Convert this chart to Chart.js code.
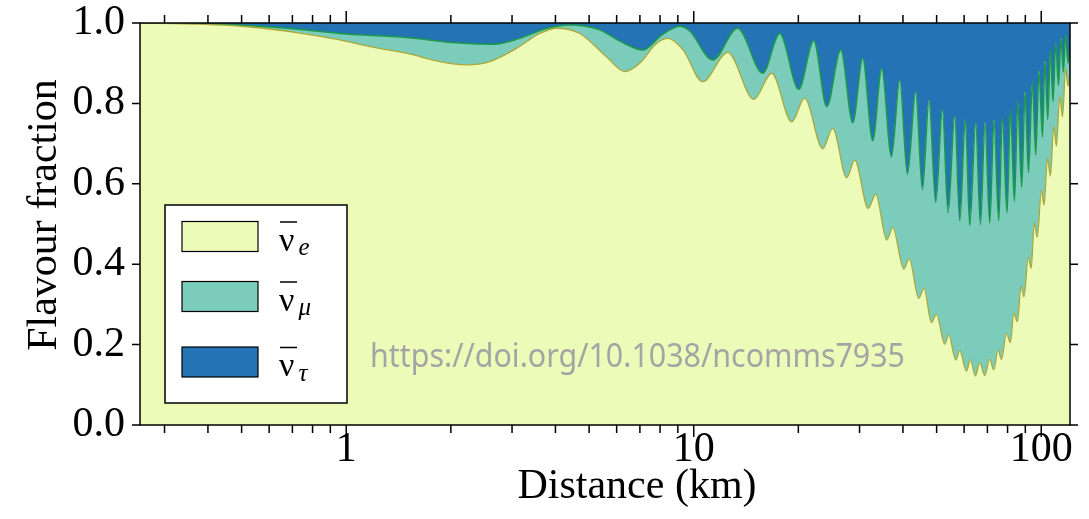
<!DOCTYPE html>
<html>
<head>
<meta charset="utf-8">
<script src="https://cdn.jsdelivr.net/npm/chart.js@4"></script>
<style>
  html, body { margin: 0; background: #fff; }
  #wrap { width: 1089px; height: 519px; }
</style>
</head>
<body>
<div id="wrap"><canvas id="flavourChart" width="1089" height="519"></canvas></div>
<script>
// values: distance (km) and the cumulative flavour fraction
// top of the nu_e band (= P_ee)
const distE = [0.255, 0.379, 0.528, 0.735, 0.958, 1.192, 1.49, 1.858, 2.218, 2.588, 3.089, 3.605, 4.026, 4.697, 5.609, 6.331, 6.993, 7.809, 8.433, 9.316,
  10.61, 12.53, 14.89, 16.77, 19.14, 20.86, 23.51, 25.12, 27.56, 29.06, 31.78, 33.40, 35.93, 37.39, 40.22, 41.70, 44.42, 45.99, 48.31, 49.94,
  52.77, 54.18, 56.75, 58.27, 60.91, 62.54, 64.65, 66.53, 68.77, 71.09, 73.00, 75.11, 76.81, 79.40, 81.53, 83.35, 85.41, 87.48, 89.23, 91.75,
  93.58, 95.47, 97.39, 100.1, 101.9, 104.2, 106.3, 108.6, 110.6, 113.0, 115.1, 117.6, 119.4, 121];
const fracE = [1.0, 0.997, 0.99, 0.975, 0.958, 0.94, 0.925, 0.904, 0.896, 0.904, 0.937, 0.974, 0.987, 0.974, 0.916, 0.879, 0.900, 0.949, 0.962, 0.933,
  0.854, 0.927, 0.810, 0.875, 0.754, 0.813, 0.687, 0.738, 0.615, 0.659, 0.539, 0.574, 0.460, 0.491, 0.388, 0.413, 0.315, 0.340, 0.255, 0.276,
  0.201, 0.224, 0.162, 0.185, 0.134, 0.162, 0.122, 0.155, 0.123, 0.163, 0.137, 0.187, 0.163, 0.228, 0.205, 0.279, 0.257, 0.346, 0.319, 0.417,
  0.390, 0.502, 0.467, 0.583, 0.547, 0.663, 0.619, 0.744, 0.694, 0.818, 0.767, 0.887, 0.843, 0.87];

// top of the nu_mu band (= P_ee + P_emu)
const distEMu = [0.255, 0.379, 0.528, 0.735, 0.958, 1.49, 2.121, 2.640, 3.158, 3.726, 4.397, 5.364, 6.125, 7.147, 8.088, 9.115, 9.739,
  11.34, 13.38, 15.80, 17.68, 20.05, 22.15, 24.14, 26.49, 28.69, 30.64, 32.74, 34.75, 37.07, 39.16, 41.21, 43.53, 45.51, 47.54, 49.70,
  51.97, 53.94, 56.38, 58.27, 60.51, 62.26, 64.79, 66.83, 68.92, 71.09, 73.14, 75.44, 77.31, 79.73, 81.55, 83.73, 85.58, 87.88, 89.82,
  91.87, 94.34, 96.43, 98.55, 100.8, 102.5, 104.4, 106.3, 108.1, 110.1, 112.1, 114.0, 115.8, 117.6, 119.4, 121];
const fracEMu = [1.0, 0.998, 0.993, 0.984, 0.974, 0.964, 0.950, 0.947, 0.962, 0.985, 0.995, 0.983, 0.955, 0.933, 0.970, 0.992, 0.980,
  0.908, 0.987, 0.875, 0.974, 0.835, 0.956, 0.792, 0.933, 0.752, 0.912, 0.707, 0.887, 0.667, 0.858, 0.624, 0.829, 0.585, 0.808, 0.554,
  0.785, 0.528, 0.769, 0.508, 0.760, 0.496, 0.752, 0.498, 0.752, 0.502, 0.759, 0.508, 0.765, 0.527, 0.784, 0.556, 0.804, 0.591, 0.829,
  0.628, 0.854, 0.672, 0.881, 0.716, 0.906, 0.760, 0.933, 0.804, 0.950, 0.845, 0.962, 0.878, 0.972, 0.900, 0.935];

// nu_tau fills the rest up to 1
const distAll = [0.255, 121];
const fracAll = [1.0, 1.0];

const xMajorTicks = [1, 10, 100];
const xMinorTicks = [0.3, 0.4, 0.5, 0.6, 0.7, 0.8, 0.9, 2, 3, 4, 5, 6, 7, 8, 9, 20, 30, 40, 50, 60, 70, 80, 90];
const yTicks = [0, 0.2, 0.4, 0.6, 0.8, 1.0];
const flavourSubs = ['e', 'μ', 'τ'];
const xTitle = 'Distance (km)';
const yTitle = 'Flavour fraction';
const watermark = 'https://doi.org/10.1038/ncomms7935';

const fillColors = ['#edfbb9', '#7bccbb', '#2474b5'];
const edgeColors = ['#aaa83a', '#1b9a4c'];

const serif = '"Liberation Serif", "Times New Roman", serif';

const toPoints = (xs, ys) => xs.map((d, i) => ({ x: d, y: ys[i] }));

// legend, frame, outward ticks, axis titles and the doi stamp
const overlay = {
  id: 'overlay',
  afterDraw(chart) {
    const { ctx, chartArea: a, scales: { x, y } } = chart;
    ctx.save();

    ctx.font = '33px "Noto Sans"';
    ctx.fillStyle = '#a4a4a4';
    ctx.textBaseline = 'alphabetic';
    ctx.textAlign = 'left';
    ctx.fillText(watermark, 370, 367, 535);

    // axis titles sit off-centre in the figure
    ctx.font = '42px ' + serif;
    ctx.fillStyle = '#000';
    ctx.textAlign = 'center';
    ctx.textBaseline = 'middle';
    ctx.fillText(xTitle, 637, 487);
    ctx.save();
    ctx.translate(45, 215);
    ctx.rotate(-Math.PI / 2);
    ctx.fillText(yTitle, 0, 0);
    ctx.restore();
    ctx.textAlign = 'left';
    ctx.textBaseline = 'alphabetic';

    ctx.strokeStyle = '#000';
    ctx.lineWidth = 1.5;
    ctx.strokeRect(a.left, a.top, a.right - a.left, a.bottom - a.top);
    ctx.beginPath();
    xMinorTicks.concat(xMajorTicks).forEach(v => {
      const px = x.getPixelForValue(v);
      const len = xMajorTicks.includes(v) ? 12 : 8;
      ctx.moveTo(px, a.bottom); ctx.lineTo(px, a.bottom + len);
      ctx.moveTo(px, a.top); ctx.lineTo(px, a.top - len);
    });
    yTicks.forEach(v => {
      const py = y.getPixelForValue(v);
      ctx.moveTo(a.left, py); ctx.lineTo(a.left - 8, py);
      ctx.moveTo(a.right, py); ctx.lineTo(a.right + 8, py);
    });
    ctx.stroke();

    // legend box
    ctx.fillStyle = '#fff';
    ctx.fillRect(165, 205, 182, 198);
    ctx.strokeRect(165, 205, 182, 198);
    const rowTops = [221.5, 281.5, 347];
    flavourSubs.forEach((sub, i) => {
      const top = rowTops[i];
      ctx.fillStyle = fillColors[i];
      ctx.fillRect(182, top, 76, 30);
      ctx.lineWidth = 1.2;
      ctx.strokeRect(182, top, 76, 30);
      const base = top + 29;
      ctx.fillStyle = '#000';
      ctx.font = '34px ' + serif;
      ctx.fillText('ν', 279, base);
      ctx.beginPath();
      ctx.lineWidth = 1.5;
      ctx.moveTo(280, base - 28.5); ctx.lineTo(297, base - 28.5);
      ctx.stroke();
      ctx.font = 'italic 25px ' + serif;
      ctx.fillText(sub, 298.5, base + 4.5);
    });
    ctx.restore();
  }
};

new Chart(document.getElementById('flavourChart'), {
  type: 'line',
  data: {
    datasets: [
      {
        label: 'nu_e',
        data: toPoints(distE, fracE),
        fill: 'origin',
        backgroundColor: fillColors[0],
        borderColor: edgeColors[0],
        borderWidth: 1.3,
        pointRadius: 0,
        cubicInterpolationMode: 'monotone'
      },
      {
        label: 'nu_mu',
        data: toPoints(distEMu, fracEMu),
        fill: '-1',
        backgroundColor: fillColors[1],
        borderColor: edgeColors[1],
        borderWidth: 1.5,
        pointRadius: 0,
        cubicInterpolationMode: 'monotone'
      },
      {
        label: 'nu_tau',
        data: toPoints(distAll, fracAll),
        fill: '-1',
        backgroundColor: fillColors[2],
        borderWidth: 0,
        pointRadius: 0
      }
    ]
  },
  options: {
    responsive: false,
    animation: false,
    devicePixelRatio: 1,
    layout: { padding: { top: 23, right: 19, left: 0, bottom: 0 } },
    plugins: { legend: { display: false }, tooltip: { enabled: false } },
    scales: {
      x: {
        type: 'logarithmic',
        min: distAll[0],
        max: distAll[1],
        grid: { display: false, drawTicks: false },
        border: { display: false },
        afterBuildTicks: s => {
          s.ticks = xMinorTicks.concat(xMajorTicks).sort((p, q) => p - q).map(v => ({ value: v }));
        },
        afterFit: s => {
          s.height = 94;
          s.paddingLeft = 0;
          s.paddingRight = 0;
        },
        ticks: {
          autoSkip: false,
          maxRotation: 0,
          padding: 4,
          color: '#000',
          font: { family: serif, size: 42, lineHeight: 1 },
          callback: v => (xMajorTicks.includes(v) ? String(v) : '')
        }
      },
      y: {
        min: 0,
        max: 1,
        grid: { display: false, drawTicks: false },
        border: { display: false },
        afterBuildTicks: s => { s.ticks = yTicks.map(v => ({ value: v })); },
        afterFit: s => {
          s.width = 140;
          s.paddingTop = 0;
          s.paddingBottom = 0;
        },
        ticks: {
          padding: 15,
          color: '#000',
          font: { family: serif, size: 42, lineHeight: 1 },
          callback: v => v.toFixed(1)
        }
      }
    }
  },
  plugins: [overlay]
});
</script>
</body>
</html>
